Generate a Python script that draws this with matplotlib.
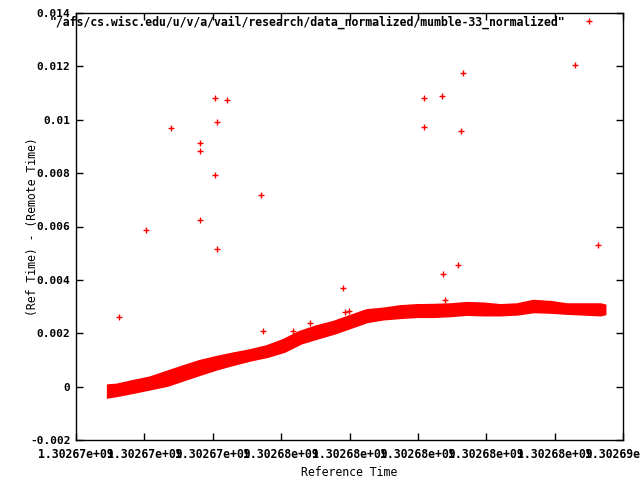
#!/usr/bin/env python3
"""
Clock offset scatter (gnuplot-style) for mumble-33.
"""

import matplotlib
matplotlib.use('Agg')
import matplotlib.pyplot as plt
from matplotlib.ticker import FuncFormatter, FixedLocator

T0 = 1302670000

# dense band of samples, read as upper / lower rows (seconds after T0)
band_x = [1000, 1190, 1677, 2165, 2652, 3140, 3627, 4115, 4602, 5090,
          5577, 6065, 6552, 7040, 7527, 8015, 8502, 8990, 9477, 9965,
          10452, 10940, 11427, 11915, 12402, 12890, 13377, 13865, 14352,
          14840, 15327, 15390]
band_hi = [-0.00003, -0.00001, 0.00013, 0.00026, 0.00047, 0.00068, 0.00088,
           0.00103, 0.00116, 0.00128, 0.00143, 0.00166, 0.00197, 0.00218,
           0.00234, 0.00256, 0.00278, 0.00284, 0.00293, 0.00297, 0.00298,
           0.00300, 0.00305, 0.00303, 0.00297, 0.00300, 0.00313, 0.00309,
           0.00300, 0.00300, 0.00300, 0.00298]
band_lo = [-0.00027, -0.00023, -0.00011, 0.00002, 0.00015, 0.00036, 0.00057,
           0.00077, 0.00094, 0.00110, 0.00123, 0.00142, 0.00173, 0.00192,
           0.00210, 0.00232, 0.00254, 0.00264, 0.00269, 0.00273, 0.00273,
           0.00276, 0.00281, 0.00279, 0.00279, 0.00282, 0.00291, 0.00289,
           0.00285, 0.00282, 0.00279, 0.00281]

# isolated samples
out_x = [1266, 2048, 2788, 3636, 3636, 3636, 4075, 4115, 4075, 4115,
         4417, 5420, 5479, 6338, 6853, 7818, 7868, 7994, 10179, 10179,
         10714, 10726, 10793, 11182, 11261, 11320, 14596, 15268]
out_y = [0.00261, 0.00587, 0.00968, 0.00913, 0.00884, 0.00624, 0.01081,
         0.00990, 0.00792, 0.00515, 0.01074, 0.00719, 0.00210, 0.00210,
         0.00237, 0.00369, 0.00279, 0.00282, 0.01080, 0.00971, 0.01088,
         0.00421, 0.00323, 0.00456, 0.00956, 0.01177, 0.01207, 0.00531]

x_ticks = [T0 + 2000 * k for k in range(9)]
y_ticks = [-0.002, 0, 0.002, 0.004, 0.006, 0.008, 0.01, 0.012, 0.014]

series_label = '"/afs/cs.wisc.edu/u/v/a/vail/research/data_normalized/mumble-33_normalized"'

plt.rcParams['font.family'] = ['DejaVu Sans Mono']
plt.rcParams['font.weight'] = 'bold'
plt.rcParams['font.size'] = 8.3

fig = plt.figure(figsize=(6.4, 4.8), dpi=100)
ax = fig.add_axes([76 / 640, 1 - 440 / 480, 547 / 640, 427 / 480])

bx = [T0 + v for v in band_x]
ax.fill_between(bx, band_lo, band_hi, facecolor='#ff0000', edgecolor='#ff0000',
                linewidth=5.5, joinstyle='miter')
ax.plot(bx, band_hi, linestyle='none', marker='+', color='#ff0000', ms=5, mew=1.0)
ax.plot(bx, band_lo, linestyle='none', marker='+', color='#ff0000', ms=5, mew=1.0)
ax.plot([T0 + v for v in out_x], out_y, linestyle='none', marker='+',
        color='#ff0000', ms=5, mew=1.0, label=series_label)

ax.set_xlim(x_ticks[0], x_ticks[-1])
ax.set_ylim(y_ticks[0], y_ticks[-1])
ax.xaxis.set_major_locator(FixedLocator(x_ticks))
ax.yaxis.set_major_locator(FixedLocator(y_ticks))
ax.xaxis.set_major_formatter(FuncFormatter(lambda v, p: '%g' % v))
ax.yaxis.set_major_formatter(FuncFormatter(lambda v, p: '%g' % v))
ax.tick_params(direction='in', length=5, width=1, top=True, right=True)
ax.tick_params(axis='x', pad=6)
ax.tick_params(axis='y', pad=4, labelsize=8)

for s in ax.spines.values():
    s.set_linewidth(1)

ax.set_xlabel('Reference Time', va='center')
ax.set_ylabel('(Ref Time) - (Remote Time)', va='center')
ax.xaxis.set_label_coords(0.5, -0.075)
ax.yaxis.set_label_coords(-0.08, 0.5)

ax.legend(loc='upper right', bbox_to_anchor=(0.955, 1.0), frameon=False,
          markerfirst=False, handlelength=1.2, handletextpad=1.5,
          borderaxespad=0, borderpad=0.2)

fig.savefig('out.png', dpi=100, facecolor='white')
